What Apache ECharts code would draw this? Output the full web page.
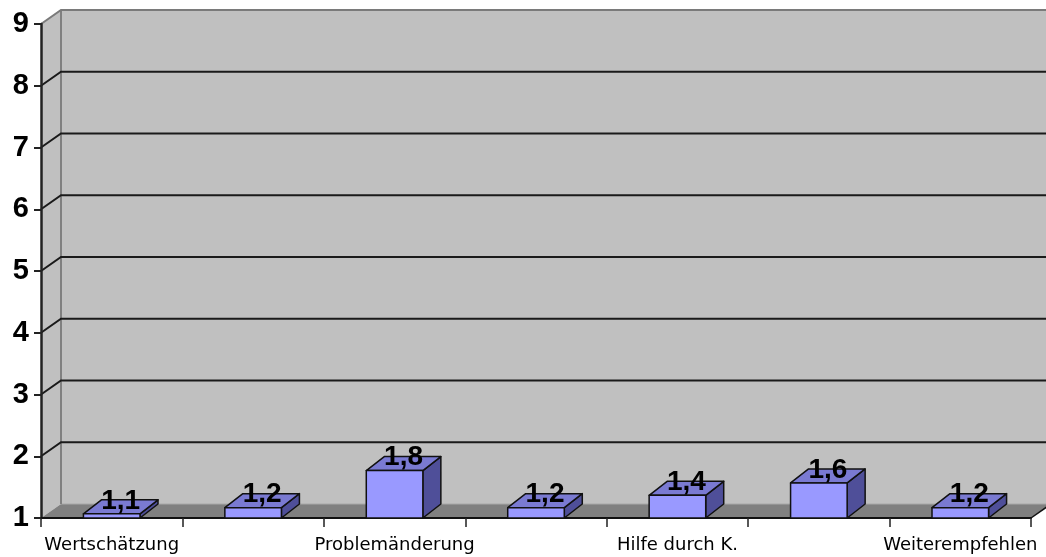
<!DOCTYPE html>
<html>
<head>
<meta charset="utf-8">
<script src="https://cdn.jsdelivr.net/npm/echarts@6/dist/echarts.min.js"></script>
<style>
html,body{margin:0;padding:0;background:#fff;}
#c{width:1046px;height:557px;}
</style>
</head>
<body>
<div id="c"></div>
<script>
const categories = ['Wertschätzung', '', 'Problemänderung', '', 'Hilfe durch K.', '', 'Weiterempfehlen'];
const values = [1.1, 1.2, 1.8, 1.2, 1.4, 1.6, 1.2];
const yTicks = [1, 2, 3, 4, 5, 6, 7, 8, 9];

const yMin = yTicks[0], yMax = yTicks[yTicks.length - 1];
const WALL_D = [20, -14];
const BAR_D = [18, -14];

const chart = echarts.init(document.getElementById('c'), null, {renderer: 'canvas'});

function renderWall(params, api) {
  const cs = params.coordSys;
  const x0 = cs.x, x1 = cs.x + cs.width, yT = cs.y, yB = cs.y + cs.height;
  const dx = WALL_D[0], dy = WALL_D[1];
  const ch = [];
  ch.push({type: 'polygon', shape: {points: [[x0, yT], [x0 + dx, yT + dy], [x0 + dx, yB + dy], [x0, yB]]}, style: {fill: '#c0c0c0'}});
  ch.push({type: 'rect', shape: {x: x0 + dx, y: yT + dy, width: cs.width + 10, height: cs.height}, style: {fill: '#c0c0c0'}});
  ch.push({type: 'polygon', shape: {points: [[x0, yB], [x0 + dx, yB + dy], [x1 + dx, yB + dy], [x1, yB]]}, style: {fill: '#808080'}});
  ch.push({type: 'line', shape: {x1: x0 + dx, y1: yB + dy, x2: x1 + dx, y2: yB + dy}, style: {stroke: '#a8a8a8', lineWidth: 1}});
  ch.push({type: 'line', shape: {x1: x0 + dx, y1: yT + dy, x2: x0 + dx, y2: yB + dy}, style: {stroke: '#808080', lineWidth: 2}});
  yTicks.forEach(v => {
    if (v === yMin) return;
    const y = api.coord([0, v])[1];
    const col = v === yMax ? '#7a7a7a' : '#1a1a1a';
    ch.push({type: 'polyline', shape: {points: [[x0, y], [x0 + dx, y + dy], [x1 + dx + 10, y + dy]]}, style: {stroke: col, lineWidth: 2, fill: null}});
  });
  ch.push({type: 'line', shape: {x1: x1, y1: yB, x2: x1 + dx, y2: yB + dy}, style: {stroke: '#111', lineWidth: 1.5}});
  return {type: 'group', children: ch};
}

function renderBar(params, api) {
  const i = api.value(0), v = api.value(1);
  const top = api.coord([i, v]);
  const base = api.coord([i, yMin]);
  const bw = api.size([1, 0])[0] * 0.4;
  const dx = BAR_D[0], dy = BAR_D[1];
  const xL = top[0] - bw / 2, xR = top[0] + bw / 2;
  const yT = top[1] + 2, yB = base[1];
  const stroke = {stroke: '#111', lineWidth: 1.5, lineJoin: 'round'};
  return {type: 'group', children: [
    {type: 'polygon', shape: {points: [[xR, yT], [xR + dx, yT + dy], [xR + dx, yB + dy], [xR, yB]]}, style: Object.assign({fill: '#4f4f99'}, stroke)},
    {type: 'polygon', shape: {points: [[xL, yT], [xL + dx, yT + dy], [xR + dx, yT + dy], [xR, yT]]}, style: Object.assign({fill: '#7a7ad2'}, stroke)},
    {type: 'rect', shape: {x: xL, y: yT, width: bw, height: yB - yT}, style: Object.assign({fill: '#9999ff'}, stroke)},
    {type: 'text', x: top[0] + dx / 2, y: yT + dy / 2 - 6, style: {
      text: v.toFixed(1).replace('.', ','), fill: '#000',
      font: 'bold 28px "Liberation Sans", Arial, sans-serif', align: 'center', verticalAlign: 'middle'}}
  ]};
}

chart.setOption({
  animation: false,
  backgroundColor: '#ffffff',
  grid: {left: 41, right: 15, top: 24, bottom: 39},
  xAxis: {
    type: 'category', data: categories, boundaryGap: true,
    axisLine: {show: true, lineStyle: {color: '#111', width: 2}},
    axisTick: {show: true, interval: 0, length: 9, lineStyle: {color: '#222', width: 1.5}},
    axisLabel: {interval: 0, margin: 18, color: '#000', fontFamily: 'DejaVu Sans', fontSize: 18},
    splitLine: {show: false}
  },
  yAxis: {
    type: 'value', min: yMin, max: yMax, interval: 1,
    axisLine: {show: true, lineStyle: {color: '#222', width: 2.5}},
    axisTick: {show: true, length: 7, lineStyle: {color: '#222', width: 2}},
    axisLabel: {margin: 12, color: '#000', fontFamily: 'Liberation Sans', fontWeight: 'bold', fontSize: 29},
    splitLine: {show: false}
  },
  series: [
    {type: 'custom', z: -1, silent: true, renderItem: renderWall, data: [[0, yMin]], encode: {x: 0, y: 1}},
    {type: 'custom', z: 3, renderItem: renderBar, data: values.map((v, i) => [i, v]), encode: {x: 0, y: 1}}
  ]
});
</script>
</body>
</html>
